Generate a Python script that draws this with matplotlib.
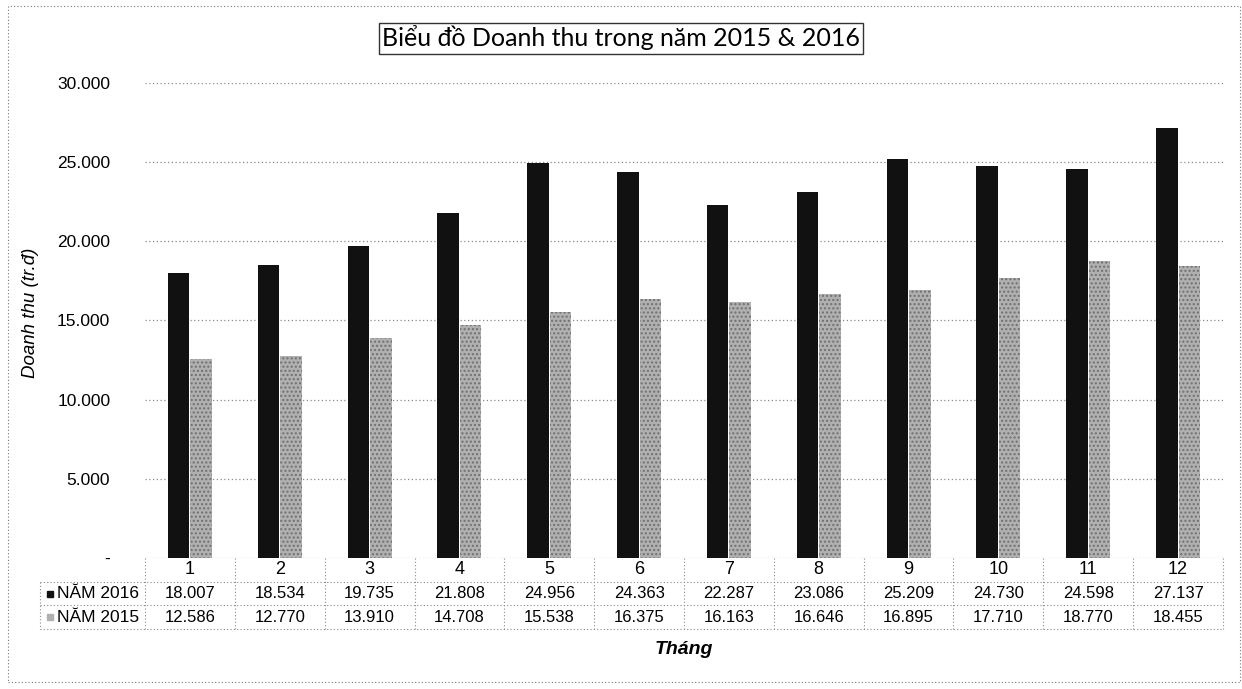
import matplotlib
matplotlib.use('Agg')
import matplotlib.pyplot as plt
import matplotlib.transforms as mtransforms
from matplotlib.patches import Rectangle

months = ['1', '2', '3', '4', '5', '6', '7', '8', '9', '10', '11', '12']
rev_2016 = [18007, 18534, 19735, 21808, 24956, 24363, 22287, 23086, 25209, 24730, 24598, 27137]
rev_2015 = [12586, 12770, 13910, 14708, 15538, 16375, 16163, 16646, 16895, 17710, 18770, 18455]
labels_2016 = ['18.007', '18.534', '19.735', '21.808', '24.956', '24.363',
               '22.287', '23.086', '25.209', '24.730', '24.598', '27.137']
labels_2015 = ['12.586', '12.770', '13.910', '14.708', '15.538', '16.375',
               '16.163', '16.646', '16.895', '17.710', '18.770', '18.455']
y_ticks = [0, 5000, 10000, 15000, 20000, 25000, 30000]
y_tick_labels = ['-', '5.000', '10.000', '15.000', '20.000', '25.000', '30.000']

plt.rcParams['font.family'] = ['Liberation Sans', 'DejaVu Sans']

W, H = 1242, 689
fig = plt.figure(figsize=(W / 100, H / 100), dpi=100)
ax = fig.add_axes([145 / W, 1 - 558 / H, (1223 - 145) / W, (558 - 83) / H])

dot = (0, (1, 2))
grid_col = '#8a8a8a'
c2016 = '#111111'
c2015 = '#b0b0b0'

x = list(range(len(months)))
w = 0.24
ax.bar([i - 0.125 for i in x], rev_2016, width=w, color=c2016, zorder=3)
ax.bar([i + 0.125 for i in x], rev_2015, width=w, color=c2015,
       hatch='....', edgecolor='#707070', linewidth=0, zorder=3)

ax.set_xlim(-0.5, 11.5)
ax.set_ylim(0, 30000)
ax.set_yticks(y_ticks)
ax.set_yticklabels(y_tick_labels, fontsize=12.5)
ax.tick_params(axis='y', length=0, pad=25)
ax.set_xticks([])
for s in ax.spines.values():
    s.set_visible(False)
ax.yaxis.grid(True, color=grid_col, linestyle=dot, linewidth=0.9)
ax.set_axisbelow(True)

ax.set_ylabel('Doanh thu (tr.đ)', fontsize=13.5, style='italic')
ax.yaxis.set_label_coords(-0.098, 0.517)

# data table below the axes
trans = mtransforms.blended_transform_factory(ax.transData, ax.transAxes)
px = 1 / 475
row_mid = [-12 * px, -36 * px, -59 * px]
row_edge = [0, -24 * px, -47 * px, -71 * px]
for i, m in enumerate(months):
    ax.text(i, row_mid[0], m, transform=trans, ha='center', va='center',
            fontsize=13, clip_on=False)
    ax.text(i, row_mid[1], labels_2016[i], transform=trans, ha='center', va='center',
            fontsize=12, clip_on=False)
    ax.text(i, row_mid[2], labels_2015[i], transform=trans, ha='center', va='center',
            fontsize=12, clip_on=False)
for b in range(len(months) + 1):
    ax.plot([b - 0.5, b - 0.5], [row_edge[0], row_edge[3]], transform=trans,
            color=grid_col, linestyle=dot, linewidth=0.8, clip_on=False)
x_left = (40 - 145) / 1078
for e in row_edge[1:]:
    ax.plot([x_left, 1.0], [e, e], transform=ax.transAxes, color=grid_col,
            linestyle=dot, linewidth=0.8, clip_on=False)
ax.plot([x_left, x_left], [row_edge[1], row_edge[3]], transform=ax.transAxes,
        color=grid_col, linestyle=dot, linewidth=0.8, clip_on=False)

for r, (lab, col) in enumerate([('NĂM 2016', c2016), ('NĂM 2015', c2015)]):
    yy = row_mid[r + 1]
    ax.add_patch(Rectangle(((47 - 145) / 1078, yy - 3 * px), 6 / 1078, 6 * px,
                           transform=ax.transAxes, color=col, clip_on=False))
    ax.text((57 - 145) / 1078, yy, lab, transform=ax.transAxes, ha='left', va='center',
            fontsize=12.5, clip_on=False)

fig.text(684 / W, 1 - 649 / H, 'Tháng', ha='center', va='center', fontsize=14,
         style='italic', weight='bold')

fig.text(0.5, 1 - 38 / H, 'Biểu đồ Doanh thu trong năm 2015 & 2016', ha='center',
         va='center', fontsize=18, family=['Lato', 'DejaVu Sans'],
         bbox=dict(boxstyle='square,pad=0.12', facecolor='white', edgecolor='#333333',
                   linewidth=1))

# chart frame
fig.add_artist(Rectangle((8 / W, 0.01), 1 - 10 / W, 1 - 6 / H - 0.01,
                         transform=fig.transFigure, fill=False, edgecolor='#777777',
                         linestyle=dot, linewidth=0.8))

fig.savefig('out.png', dpi=100)
